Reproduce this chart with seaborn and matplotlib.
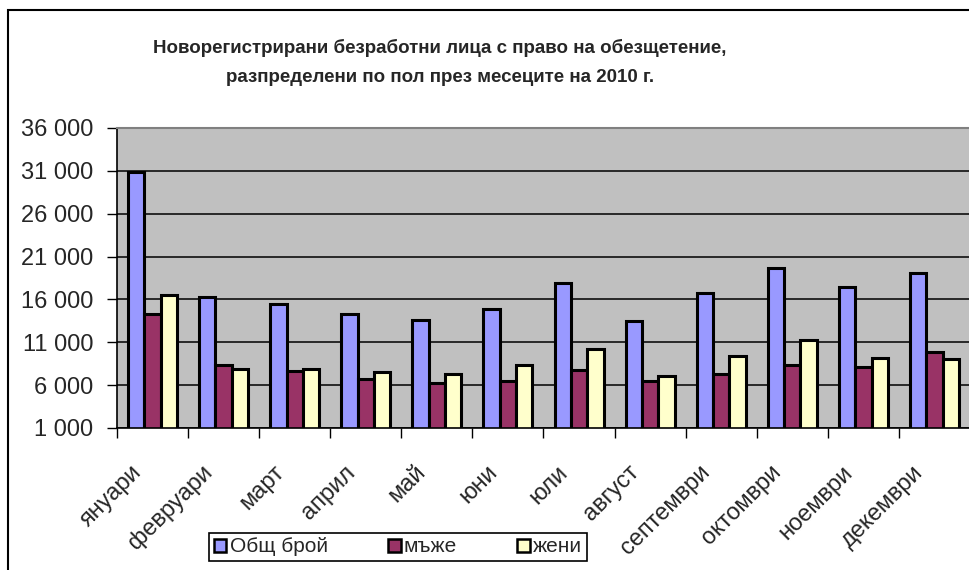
import matplotlib
matplotlib.use("Agg")
import matplotlib.pyplot as plt
import matplotlib.ticker as mticker
import matplotlib.transforms as mtransforms
from matplotlib.patches import Rectangle
import seaborn as sns
import pandas as pd
import numpy as np

months = ["януари", "февруари", "март", "април", "май", "юни", "юли",
          "август", "септември", "октомври", "ноември", "декември"]
series_names = ["Общ брой", "мъже", "жени"]
total = [30900, 16300, 15500, 14350, 13650, 14850, 17950, 13500, 16780, 19630, 17400, 19050]
men = [14350, 8300, 7600, 6750, 6250, 6450, 7800, 6470, 7330, 8300, 8100, 9900]
women = [16500, 7850, 7870, 7550, 7250, 8380, 10180, 7020, 9360, 11230, 9200, 9100]
title_lines = ["Новорегистрирани безработни лица с право на обезщетение,",
               "разпределени по пол през месеците на 2010 г."]
colors = ["#9999FF", "#993366", "#FFFFCC"]

df = pd.DataFrame({
    "month": months * 3,
    "series": [series_names[0]] * 12 + [series_names[1]] * 12 + [series_names[2]] * 12,
    "value": total + men + women,
})

sns.set_theme(style="white")
plt.rcParams["font.family"] = ["Liberation Sans", "DejaVu Sans"]

fig = plt.figure(figsize=(9.7, 5.7), dpi=100)
ax = fig.add_axes([117 / 970, 1 - 428 / 570, (970 - 117) / 970, 300 / 570])
ax.set_facecolor("#C0C0C0")

sns.barplot(data=df, x="month", y="value", hue="series", hue_order=series_names,
            palette=colors, edgecolor="black", linewidth=2.2, width=0.69,
            ax=ax, legend=True, saturation=1)

ax.set_ylim(1000, 36000)
ax.set_xlim(-0.5, 11.5)
ax.set_yticks(np.arange(1000, 36001, 5000))
ax.yaxis.set_major_formatter(mticker.FuncFormatter(lambda v, p: f"{int(round(v)):,}".replace(",", " ")))
ax.grid(axis="y", color="black", linewidth=1.1)
ax.set_axisbelow(True)
ax.set_xlabel("")
ax.set_ylabel("")

ax.tick_params(axis="y", which="major", direction="out", length=7, width=1, color="black",
               labelsize=17, left=True, pad=10)
ax.set_xticks(np.arange(12))
ax.set_xticklabels(months, rotation=45, ha="right", rotation_mode="anchor", fontsize=17)
ax.tick_params(axis="x", which="major", length=0, pad=24)
offset = mtransforms.ScaledTranslation(-22 / 100, 0, fig.dpi_scale_trans)
for lbl in ax.get_xticklabels():
    lbl.set_transform(lbl.get_transform() + offset)
ax.set_xticks(np.arange(-0.5, 12, 1), minor=True)
ax.tick_params(axis="x", which="minor", direction="out", length=7, width=1, color="black", bottom=True)

for s in ["left", "bottom"]:
    ax.spines[s].set_color("black")
    ax.spines[s].set_linewidth(1.2)
ax.spines["top"].set_color("#808080")
ax.spines["top"].set_linewidth(1.5)
ax.spines["right"].set_visible(False)

handles, labels = ax.get_legend_handles_labels()
if ax.legend_:
    ax.legend_.remove()
leg = fig.legend(handles, labels, ncol=3, loc="center",
                 bbox_to_anchor=(398 / 970, 1 - 547 / 570),
                 fontsize=15, frameon=True, fancybox=False, edgecolor="black",
                 framealpha=1, handlelength=0.6, handleheight=0.6,
                 handletextpad=0.15, columnspacing=2.9, borderpad=0.22,
                 borderaxespad=0.0)
leg.get_frame().set_linewidth(1.2)
for h in leg.legend_handles:
    h.set_linewidth(1.8)

fig.text(440 / 970, 1 - 48 / 570, title_lines[0], ha="center", va="center",
         fontsize=13.5, fontweight="bold")
fig.text(440 / 970, 1 - 77 / 570, title_lines[1], ha="center", va="center",
         fontsize=13.5, fontweight="bold")

fig.patches.append(Rectangle((8 / 970, -0.05), 1.2, 1 - 10 / 570 + 0.05,
                             transform=fig.transFigure, fill=False,
                             edgecolor="black", linewidth=1.5, zorder=10))

fig.savefig("out.png", dpi=100)
